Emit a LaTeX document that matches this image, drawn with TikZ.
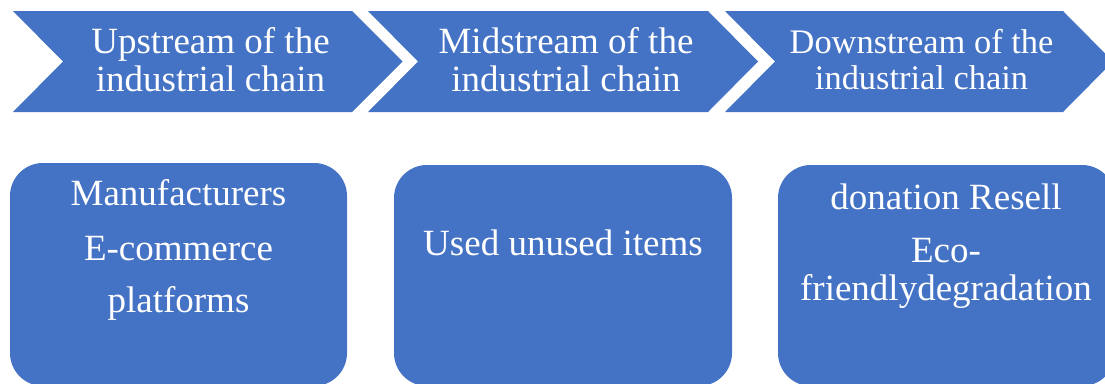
\documentclass[tikz,border=0pt]{standalone}
\usepackage{fontspec}
\setmainfont{Liberation Serif}
\definecolor{officeblue}{HTML}{4472C4}
\tikzset{
  chev/.style={fill=officeblue, draw=none},
  boxshape/.style={fill=officeblue, draw=none, rounded corners=33pt},
  lbl/.style={text=white, anchor=base, inner sep=0pt, font=\fontsize{37}{37}\selectfont},
  lblsmall/.style={text=white, anchor=base, inner sep=0pt, font=\fontsize{34.4}{34.4}\selectfont}
}
\begin{document}
\begin{tikzpicture}[x=1pt,y=-1pt]
\useasboundingbox (0,0) rectangle (1105,383);
\clip (0,0) rectangle (1105,383);
% chevrons
\fill[chev] (13,11) -- (352,11) -- (402.5,61.5) -- (352,112) -- (13,112) -- (63,61.5) -- cycle;
\fill[chev] (368,11) -- (708,11) -- (758,61.5) -- (708,112) -- (368,112) -- (418,61.5) -- cycle;
\fill[chev] (725,11) -- (1063,11) -- (1113,61.5) -- (1063,112) -- (725,112) -- (775,61.5) -- cycle;
% boxes
\fill[boxshape] (10,163) rectangle (347,386);
\fill[boxshape] (394,165) rectangle (732,386);
\fill[boxshape] (778,165) rectangle (1115,386);
% header texts
\node[lbl] (up1) at (210.5,53) {Upstream of the};
\node[lbl] (up2) at (210.5,91) {industrial chain};
\node[lbl] (mid1) at (566,53) {Midstream of the};
\node[lbl] (mid2) at (566,91) {industrial chain};
\node[lblsmall] (down1) at (921.5,53) {Downstream of the};
\node[lblsmall] (down2) at (921.5,89) {industrial chain};
% box texts
\node[lbl] (b1a) at (178.5,205) {Manufacturers};
\node[lbl] (b1b) at (178.5,260) {E-commerce};
\node[lbl] (b1c) at (178.5,312) {platforms};
\node[lbl] (b2a) at (563,255) {Used unused items};
\node[lbl] (b3a) at (946,209) {donation Resell};
\node[lbl] (b3b) at (946,262) {Eco-};
\node[lbl] (b3c) at (946,300) {friendlydegradation};
\end{tikzpicture}
\end{document}
